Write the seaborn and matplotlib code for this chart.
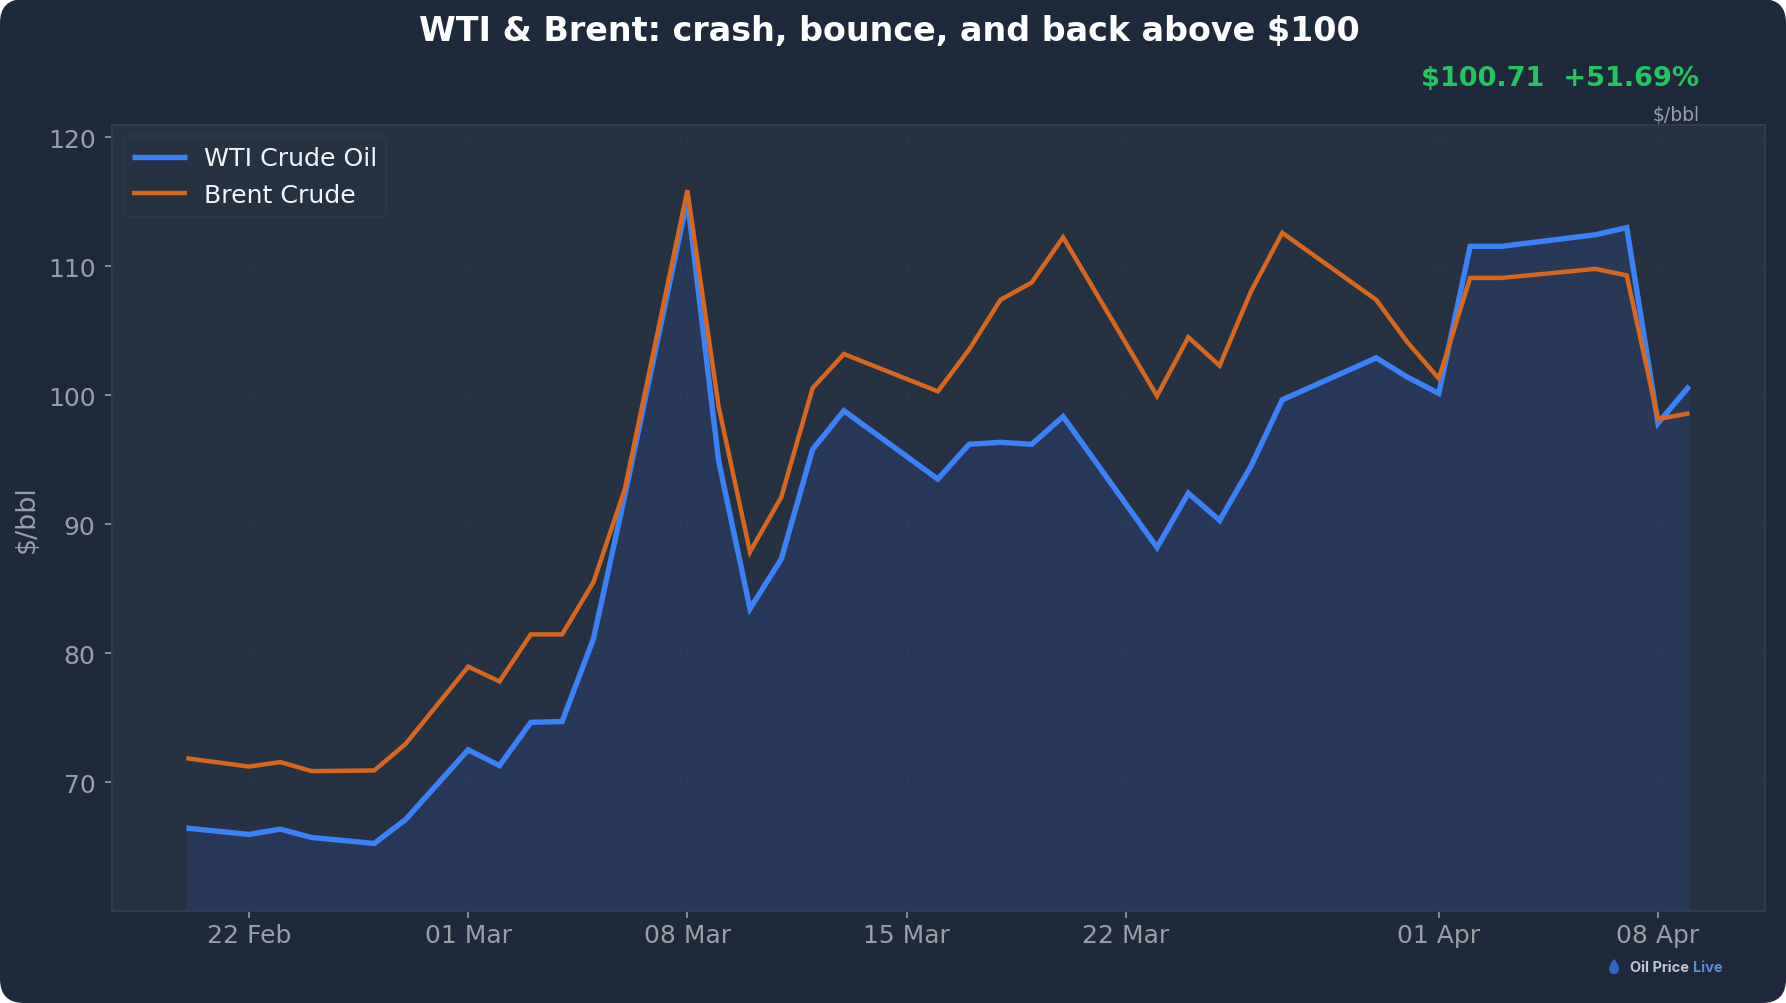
import matplotlib
matplotlib.use("Agg")
import matplotlib.dates as mdates
import matplotlib.pyplot as plt
import pandas as pd
import seaborn as sns
from matplotlib.patches import FancyBboxPatch, PathPatch
from matplotlib.path import Path
from matplotlib.transforms import IdentityTransform

DATES = [
    "02-20", "02-22", "02-23", "02-24", "02-26", "02-27", "03-01", "03-02", "03-03",
    "03-04", "03-05", "03-06", "03-08", "03-09", "03-10", "03-11", "03-12", "03-13",
    "03-16", "03-17", "03-18", "03-19", "03-20", "03-23", "03-24", "03-25", "03-26",
    "03-27", "03-30", "03-31", "04-01", "04-02", "04-03", "04-06", "04-07", "04-08",
    "04-09",
]
WTI = [
    66.43, 65.94, 66.35, 65.7, 65.24, 67.09, 72.5, 71.28, 74.63,
    74.7, 81.1, 92.2, 115.2, 94.9, 83.45, 87.3, 95.8, 98.8,
    93.5, 96.2, 96.35, 96.2, 98.35, 88.2, 92.4, 90.3, 94.5,
    99.65, 102.9, 101.4, 100.15, 111.55, 111.55, 112.45, 113.0, 97.85,
    100.71,
]
BRENT = [
    71.85, 71.2, 71.55, 70.85, 70.9, 72.95, 78.95, 77.8, 81.45,
    81.45, 85.5, 92.7, 115.9, 99.1, 87.85, 92.1, 100.55, 103.2,
    100.3, 103.55, 107.4, 108.75, 112.25, 99.95, 104.5, 102.3, 108.05,
    112.6, 107.4, 104.1, 101.3, 109.1, 109.1, 109.8, 109.3, 98.15,
    98.6,
]
X_TICKS = ["2026-02-22", "2026-03-01", "2026-03-08", "2026-03-15", "2026-03-22", "2026-04-01", "2026-04-08"]
Y_TICKS = [70, 80, 90, 100, 110, 120]

BG = "#1e293b"
PANEL = "#263142"
EDGE = "#2f3c50"
GRID = "#2c3849"
MUTED = "#9b9ea6"
BLUE = "#3b82f6"
ORANGE = "#d9661f"

df = pd.DataFrame({
    "date": pd.to_datetime(["2026-" + d for d in DATES]),
    "WTI Crude Oil": WTI,
    "Brent Crude": BRENT,
})

sns.set_theme(style="dark")
plt.rcParams["font.family"] = ["DejaVu Sans"]
plt.rcParams["lines.solid_capstyle"] = "butt"
plt.rcParams["lines.solid_joinstyle"] = "miter"

fig = plt.figure(figsize=(17.86, 10.04), dpi=100, facecolor="white")
fig.add_artist(FancyBboxPatch(
    (0, 0), 1786, 1004, boxstyle="round,pad=0,rounding_size=24",
    transform=None, facecolor=BG, edgecolor="none", zorder=-10,
))

ax = fig.add_axes([112 / 1786, 1 - 912 / 1004, (1765 - 112) / 1786, (912 - 125.5) / 1004])
ax.set_facecolor(PANEL)

sns.lineplot(data=df, x="date", y="WTI Crude Oil", color=BLUE, lw=3.9, label="WTI Crude Oil", ax=ax, zorder=4)
sns.lineplot(data=df, x="date", y="Brent Crude", color=ORANGE, lw=3.2, label="Brent Crude", ax=ax, zorder=5)
ax.fill_between(df["date"], df["WTI Crude Oil"], 60, color="#2f6fe8", alpha=0.13, lw=0, zorder=2)

ax.set_ylim(60, 121)
ax.set_xlim(pd.Timestamp("2026-02-17 15:00"), pd.Timestamp("2026-04-11 10:00"))
ax.set_yticks(Y_TICKS)
ax.set_xticks(pd.to_datetime(X_TICKS))
ax.xaxis.set_major_formatter(mdates.DateFormatter("%d %b"))
ax.tick_params(axis="both", colors=MUTED, labelsize=18, length=4.8, width=1.2, bottom=True, left=True)
ax.tick_params(axis="x", pad=4)
ax.tick_params(axis="y", pad=7)
ax.grid(True, color=GRID, lw=1, ls=(0, (2, 2)))
ax.set_axisbelow(True)
for spine in ax.spines.values():
    spine.set_color(EDGE)
    spine.set_linewidth(1.5)

ax.set_xlabel("")
ax.set_ylabel("$/bbl", color=MUTED, fontsize=19.4, labelpad=5.5)
ax.yaxis.get_label().set_parse_math(False)

# legend box is drawn apart: its side padding is tighter than its top and bottom
ax.add_patch(FancyBboxPatch(
    (129, 1004 - 213), 252, 71, boxstyle="round,pad=5,rounding_size=5",
    transform=IdentityTransform(), facecolor=PANEL, edgecolor=GRID, lw=1.5, zorder=6,
))
leg = ax.legend(
    loc="upper left", fontsize=18.2, frameon=False, handlelength=2.17, handletextpad=0.68,
    borderpad=0, borderaxespad=0, bbox_to_anchor=(132 / 1786, 1 - 147.5 / 1004),
    bbox_transform=fig.transFigure,
)
leg.set_zorder(7)
for text in leg.get_texts():
    text.set_color("#f1f5f9")

fig.text(889 / 1786, 1 - 32 / 1004, "WTI & Brent: crash, bounce, and back above $100",
         color="white", fontsize=24, fontweight="bold", ha="center", va="center", parse_math=False)
fig.text(1699 / 1786, 1 - 79 / 1004, "$100.71  +51.69%", color="#22c55e", fontsize=19.5,
         fontweight="bold", ha="right", va="center", parse_math=False)
fig.text(1700 / 1786, 1 - 116 / 1004, "$/bbl", color=MUTED, fontsize=13.5, ha="right", va="center", parse_math=False)

# watermark: drop icon in figure pixels, then the two word colours
drop = Path(
    [(1614, 1004 - 960), (1620.5, 1004 - 967), (1620.5, 1004 - 975), (1614, 1004 - 975),
     (1607.5, 1004 - 975), (1607.5, 1004 - 967), (1614, 1004 - 960)],
    [Path.MOVETO, Path.CURVE4, Path.CURVE4, Path.CURVE4, Path.CURVE4, Path.CURVE4, Path.CURVE4],
)
fig.add_artist(PathPatch(drop, transform=None, facecolor="#2f66c4", edgecolor="none"))
fig.text(1630 / 1786, 1 - 968 / 1004, "Oil Price", color="#c2c7cf", fontsize=10.5, fontweight="bold",
         family="Inter", ha="left", va="center")
fig.text(1693 / 1786, 1 - 968 / 1004, "Live", color="#5b8fd0", fontsize=10.5, fontweight="bold",
         family="Inter", ha="left", va="center")

fig.savefig("out.png", dpi=100, facecolor="white")
